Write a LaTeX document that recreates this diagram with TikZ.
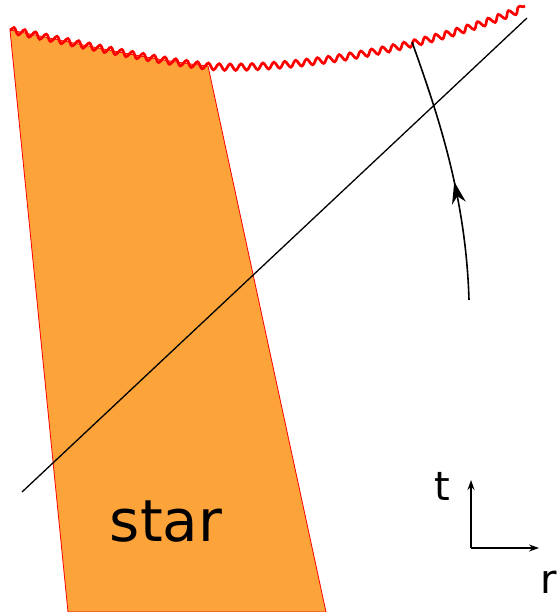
\documentclass[tikz,border=0pt]{standalone}
\usepackage{fontspec}
\setmainfont{DejaVu Sans}
\usetikzlibrary{arrows.meta,decorations.pathmorphing,decorations.markings}
\definecolor{starorange}{RGB}{252,164,58}
\begin{document}
\begin{tikzpicture}[x=1pt,y=-1pt,
    wave/.style={red,line width=2.7pt,decorate,decoration={snake,segment length=11pt,amplitude=3.2pt}},
    axislabel/.style={inner sep=0pt,font=\fontsize{40}{44}\selectfont}]
    \useasboundingbox (0,0) rectangle (558,612);
    % star
    \filldraw[fill=starorange,draw=red,line width=0.8pt] (68,612) -- (10,30)
        .. controls (80,44) and (150,60) .. (208,66) -- (326,612) -- cycle;
    \node[inner sep=0pt,font=\fontsize{58}{62}\selectfont] (star) at (166,522) {star};
    % wavy front
    \draw[wave] (10,30) .. controls (80,44) and (150,60) .. (208,66)
        .. controls (260,70) and (400,58) .. (525,6);
    % light ray
    \coordinate (ray0) at (22,492);
    \coordinate (ray1) at (527,18);
    \draw[line width=1.3pt] (ray0) -- (ray1);
    % worldline
    \coordinate (obs0) at (469,300);
    \coordinate (obs1) at (412,42);
    \draw[line width=1.6pt,decoration={markings,mark=at position 0.45 with {\arrow{Stealth[length=22pt,width=14pt]}}},postaction={decorate}]
        (obs0) .. controls (466,200) and (440,120) .. (obs1);
    % axes t, r
    \coordinate (O) at (471,548);
    \coordinate (tend) at (471,480);
    \coordinate (rend) at (539,548);
    \draw[line width=1.3pt,-{Stealth[length=10pt,width=7pt]}] (O) -- (tend);
    \draw[line width=1.3pt,-{Stealth[length=10pt,width=7pt]}] (O) -- (rend);
    \node[axislabel] (t) at (442,486) {t};
    \node[axislabel] (r) at (549,582) {r};
\end{tikzpicture}
\end{document}
